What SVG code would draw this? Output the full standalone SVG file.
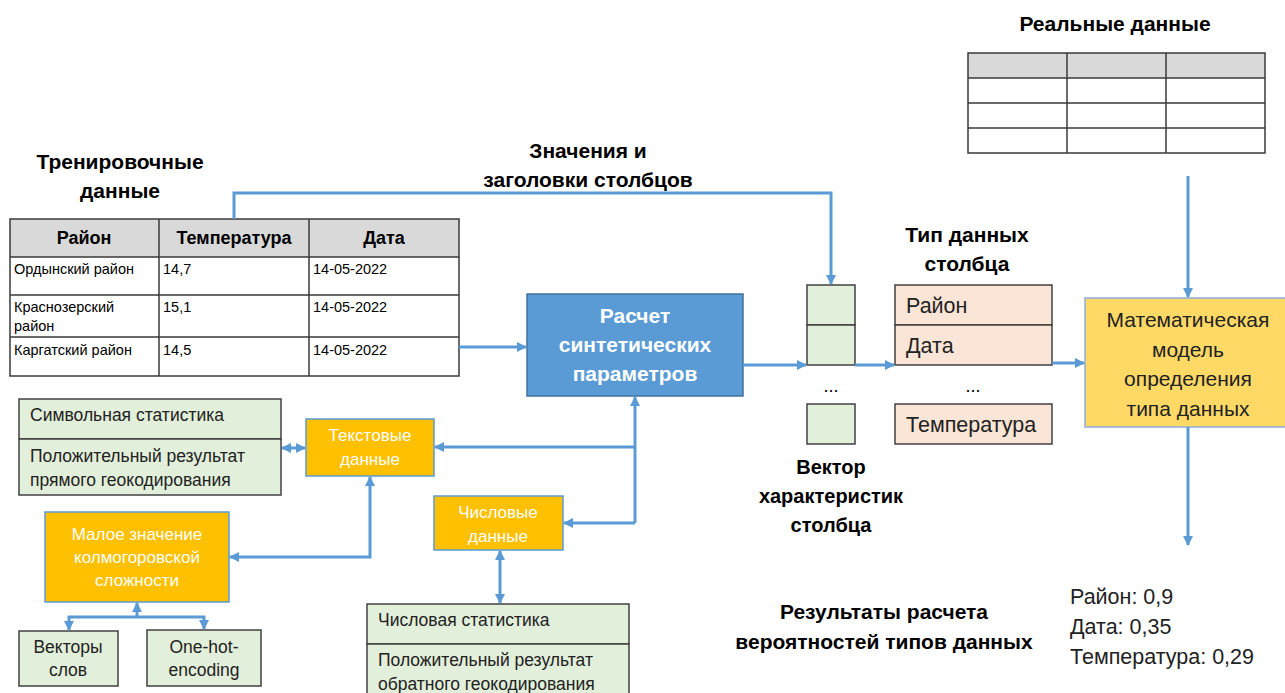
<svg xmlns="http://www.w3.org/2000/svg" width="1285" height="693" viewBox="0 0 1285 693">
<style>
  text { font-family: "Liberation Sans", Arial, sans-serif; fill: #000; }
  .title { font-weight: bold; font-size: 21px; text-anchor: middle; }
  .th { font-weight: bold; font-size: 18px; text-anchor: middle; }
  .td { font-size: 14.5px; }
  .grid { fill: none; stroke: #3a3a3a; stroke-width: 1.5; }
  .head { fill: #d9d9d9; }
  .green { fill: #e2efda; stroke: #404040; stroke-width: 1.5; }
  .peach { fill: #fbe5d6; stroke: #404040; stroke-width: 1.5; }
  .orange { fill: #ffc000; stroke: #5b9bd5; stroke-width: 1.5; }
  .otext { fill: #fff; font-size: 17px; text-anchor: middle; }
  .gtext { font-size: 17.5px; fill: #222; }
  .ctext { font-size: 17.5px; fill: #222; text-anchor: middle; }
  .ptext { font-size: 21.5px; fill: #222; }
  .mtext { font-size: 21px; fill: #222; text-anchor: middle; }
  .btext { font-size: 21px; font-weight: bold; fill: #fff; text-anchor: middle; }
  .rtext { font-size: 21.5px; fill: #222; }
  .link { fill: none; stroke: #5b9bd5; stroke-width: 3; }
</style>
<defs>
  <marker id="ah" viewBox="0 0 10 10" refX="9" refY="5" markerWidth="10" markerHeight="10" orient="auto-start-reverse" markerUnits="userSpaceOnUse">
    <path d="M0,0 L10,5 L0,10 z" fill="#5b9bd5"/>
  </marker>
</defs>
<rect width="1285" height="693" fill="#fff"/>

<!-- training table -->
<g id="training-data">
  <text class="title" x="120" y="169">Тренировочные</text>
  <text class="title" x="120" y="198">данные</text>
  <rect class="head" x="10" y="219" width="449" height="38"/>
  <rect class="grid" x="10" y="219" width="449" height="157"/>
  <path class="grid" d="M10,257 H459 M10,295 H459 M10,337 H459 M159,219 V376 M309,219 V376"/>
  <text class="th" x="84" y="244">Район</text>
  <text class="th" x="234" y="244">Температура</text>
  <text class="th" x="384" y="244">Дата</text>
  <text class="td" x="14" y="274">Ордынский район</text>
  <text class="td" x="163" y="274">14,7</text>
  <text class="td" x="313" y="274">14-05-2022</text>
  <text class="td" x="14" y="312">Краснозерский</text>
  <text class="td" x="14" y="331">район</text>
  <text class="td" x="163" y="312">15,1</text>
  <text class="td" x="313" y="312">14-05-2022</text>
  <text class="td" x="14" y="355">Каргатский район</text>
  <text class="td" x="163" y="355">14,5</text>
  <text class="td" x="313" y="355">14-05-2022</text>
</g>

<!-- real data table -->
<g id="real-data">
  <text class="title" x="1115" y="31">Реальные данные</text>
  <rect class="head" x="968" y="53" width="297" height="25"/>
  <rect class="grid" x="968" y="53" width="297" height="100"/>
  <path class="grid" d="M968,78 H1265 M968,103 H1265 M968,128 H1265 M1067,53 V153 M1166,53 V153"/>
</g>

<g id="columns-label">
  <text class="title" x="588" y="158">Значения и</text>
  <text class="title" x="588" y="187">заголовки столбцов</text>
</g>

<!-- synthetic parameters -->
<g id="synthetic">
  <rect x="527" y="294" width="216" height="102" fill="#5b9bd5" stroke="#41719c" stroke-width="1.5"/>
  <text class="btext" x="635" y="323">Расчет</text>
  <text class="btext" x="635" y="352">синтетических</text>
  <text class="btext" x="635" y="381">параметров</text>
</g>

<!-- feature vector -->
<g id="feature-vector">
  <rect class="green" x="807" y="285" width="48" height="40"/>
  <rect class="green" x="807" y="325" width="48" height="40"/>
  <text x="831" y="392" style="font-size:18px;text-anchor:middle">...</text>
  <rect class="green" x="807" y="404" width="48" height="40"/>
  <text class="title" x="831" y="474" style="font-size:20px">Вектор</text>
  <text class="title" x="831" y="503" style="font-size:20px">характеристик</text>
  <text class="title" x="831" y="532" style="font-size:20px">столбца</text>
</g>

<!-- column types -->
<g id="column-types">
  <text class="title" x="967" y="242">Тип данных</text>
  <text class="title" x="967" y="271">столбца</text>
  <rect class="peach" x="895" y="285" width="157" height="40"/>
  <rect class="peach" x="895" y="325" width="157" height="40"/>
  <text class="ptext" x="906" y="313">Район</text>
  <text class="ptext" x="906" y="353">Дата</text>
  <text x="973" y="392" style="font-size:18px;text-anchor:middle">...</text>
  <rect class="peach" x="895" y="404" width="157" height="40"/>
  <text class="ptext" x="906" y="432">Температура</text>
</g>

<!-- model -->
<g id="model">
  <rect x="1085" y="298" width="205" height="129" fill="#ffd966" stroke="#8faadc" stroke-width="1.5"/>
  <text class="mtext" x="1188" y="327">Математическая</text>
  <text class="mtext" x="1188" y="357">модель</text>
  <text class="mtext" x="1188" y="386">определения</text>
  <text class="mtext" x="1188" y="416">типа данных</text>
</g>

<!-- results -->
<g id="results">
  <text class="title" x="884" y="619">Результаты расчета</text>
  <text class="title" x="884" y="649">вероятностей типов данных</text>
  <text class="rtext" x="1070" y="604">Район: 0,9</text>
  <text class="rtext" x="1070" y="634">Дата: 0,35</text>
  <text class="rtext" x="1070" y="664">Температура: 0,29</text>
</g>

<!-- text branch -->
<g id="symbol-stats">
  <rect class="green" x="19" y="399" width="262" height="40"/>
  <rect class="green" x="19" y="439" width="262" height="56"/>
  <text class="gtext" x="30" y="421">Символьная статистика</text>
  <text class="gtext" x="30" y="462">Положительный результат</text>
  <text class="gtext" x="30" y="486">прямого геокодирования</text>
</g>
<g id="text-data">
  <rect class="orange" x="306" y="419" width="128" height="57"/>
  <text class="otext" x="370" y="441">Текстовые</text>
  <text class="otext" x="370" y="465">данные</text>
</g>
<g id="kolmogorov">
  <rect class="orange" x="45" y="512" width="184" height="90"/>
  <text class="otext" x="137" y="540">Малое значение</text>
  <text class="otext" x="137" y="563">колмогоровской</text>
  <text class="otext" x="137" y="586">сложности</text>
</g>
<g id="word-vectors">
  <rect class="green" x="19" y="631" width="99" height="55"/>
  <text class="ctext" x="68" y="653">Векторы</text>
  <text class="ctext" x="68" y="676">слов</text>
</g>
<g id="one-hot">
  <rect class="green" x="147" y="630" width="114" height="56"/>
  <text class="ctext" x="204" y="653">One-hot-</text>
  <text class="ctext" x="204" y="676">encoding</text>
</g>

<!-- numeric branch -->
<g id="numeric-data">
  <rect class="orange" x="434" y="496" width="129" height="54"/>
  <text class="otext" x="498" y="518">Числовые</text>
  <text class="otext" x="498" y="542">данные</text>
</g>
<g id="numeric-stats">
  <rect class="green" x="367" y="604" width="262" height="40"/>
  <rect class="green" x="367" y="644" width="262" height="56"/>
  <text class="gtext" x="378" y="626">Числовая статистика</text>
  <text class="gtext" x="378" y="666">Положительный результат</text>
  <text class="gtext" x="378" y="690">обратного геокодирования</text>
</g>

<!-- connectors -->
<g id="connectors">
  <path class="link" d="M234,219 V193 H831 V284" marker-end="url(#ah)"/>
  <path class="link" d="M459,347 H526" marker-end="url(#ah)"/>
  <path class="link" d="M743,365 H806" marker-end="url(#ah)"/>
  <path class="link" d="M855,365 H894" marker-end="url(#ah)"/>
  <path class="link" d="M1052,363 H1084" marker-end="url(#ah)"/>
  <path class="link" d="M1188,176 V297" marker-end="url(#ah)"/>
  <path class="link" d="M1188,427 V545" marker-end="url(#ah)"/>
  <path class="link" d="M635,523 V397" marker-end="url(#ah)"/>
  <path class="link" d="M635,447 H435" marker-end="url(#ah)"/>
  <path class="link" d="M635,523 H564" marker-end="url(#ah)"/>
  <path class="link" d="M282,448 H305" marker-start="url(#ah)" marker-end="url(#ah)"/>
  <path class="link" d="M500,551 V603" marker-start="url(#ah)" marker-end="url(#ah)"/>
  <path class="link" d="M370,477 V557 H230" marker-start="url(#ah)" marker-end="url(#ah)"/>
  <path class="link" d="M137,617 V603" marker-end="url(#ah)"/>
  <path class="link" d="M69,630 V617 H204 V629" marker-start="url(#ah)" marker-end="url(#ah)"/>
</g>
</svg>
